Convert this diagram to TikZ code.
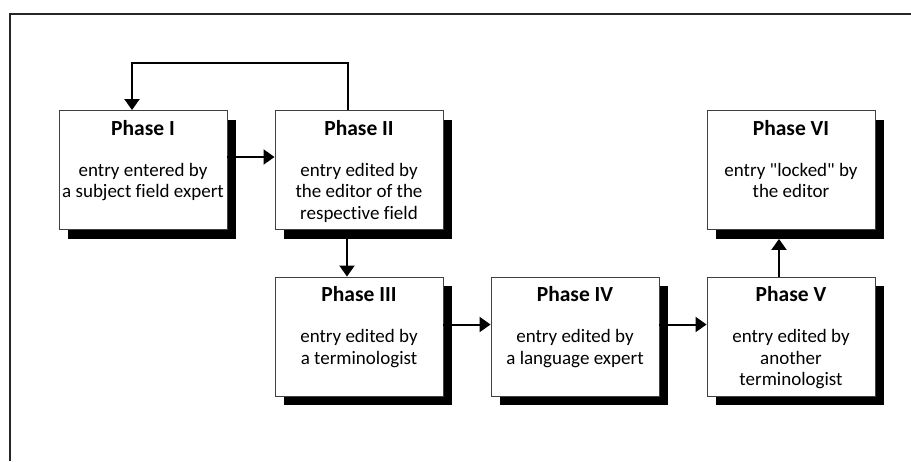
\documentclass[tikz,border=0pt]{standalone}
\usepackage{fontspec}
\setmainfont{Carlito}[Ligatures={TeXOff,NoCommon}]
\usetikzlibrary{arrows.meta,shadows,calc}
\tikzset{
  phasebox/.style={draw=black!75, line width=0.9pt, fill=white, minimum width=168pt, minimum height=119pt, inner sep=0pt,
    drop shadow={shadow xshift=9pt, shadow yshift=-9pt, fill=black, opacity=1}},
  titletext/.style={anchor=base, inner sep=0pt, font=\fontsize{21.5}{24}\selectfont\bfseries},
  bodytext/.style={anchor=north, inner sep=0pt, align=center, font=\fontsize{19}{21.5}\selectfont},
  arr/.style={line width=2pt, -{Triangle[length=11pt,width=15pt]}},
}
\begin{document}
\begin{tikzpicture}[x=1pt,y=-1pt]
\useasboundingbox (0,0) rectangle (911,461);
\draw[line width=1.4pt, black!85] (911,14) -- (10,14) -- (10,461);

\node[phasebox] (b1) at (143,170) {};
\node[phasebox] (b2) at (359,170) {};
\node[phasebox] (b6) at (791,170) {};
\node[phasebox] (b3) at (359,336.5) {};
\node[phasebox] (b4) at (575,336.5) {};
\node[phasebox] (b5) at (791,336.5) {};

\foreach \b/\t/\body in {b1/Phase I/{\strut entry entered by\\a subject field expert},
                         b2/Phase II/{\strut entry edited by\\the editor of the\\respective field},
                         b6/Phase VI/{\strut entry "locked" by\\the editor},
                         b3/Phase III/{\strut entry edited by\\a terminologist},
                         b4/Phase IV/{\strut entry edited by\\a language expert},
                         b5/Phase V/{\strut entry edited by\\another\\terminologist}}{
  \node[titletext] (\b t) at ($(\b.north)+(0,25)$) {\t};
  \node[bodytext] (\b x) at ($(\b.north)+(0,51)$) {\body};
}

\coordinate (top) at (0,63);
\draw[arr] ([xshift=-11pt]b2.north) -- ([xshift=-11pt]b2.north |- top) -| ([xshift=-11pt]b1.north);
\draw[arr] ([yshift=13pt]b1.east) -- ([yshift=13pt]b2.west);
\draw[arr] ([xshift=-12pt]b2.south) -- ([xshift=-12pt]b3.north);
\draw[arr] ([yshift=12pt]b3.east) -- ([yshift=12pt]b4.west);
\draw[arr] ([yshift=12pt]b4.east) -- ([yshift=12pt]b5.west);
\draw[arr] ([xshift=-12pt]b5.north) -- ([xshift=-12pt,yshift=-9pt]b6.south);
\end{tikzpicture}
\end{document}
